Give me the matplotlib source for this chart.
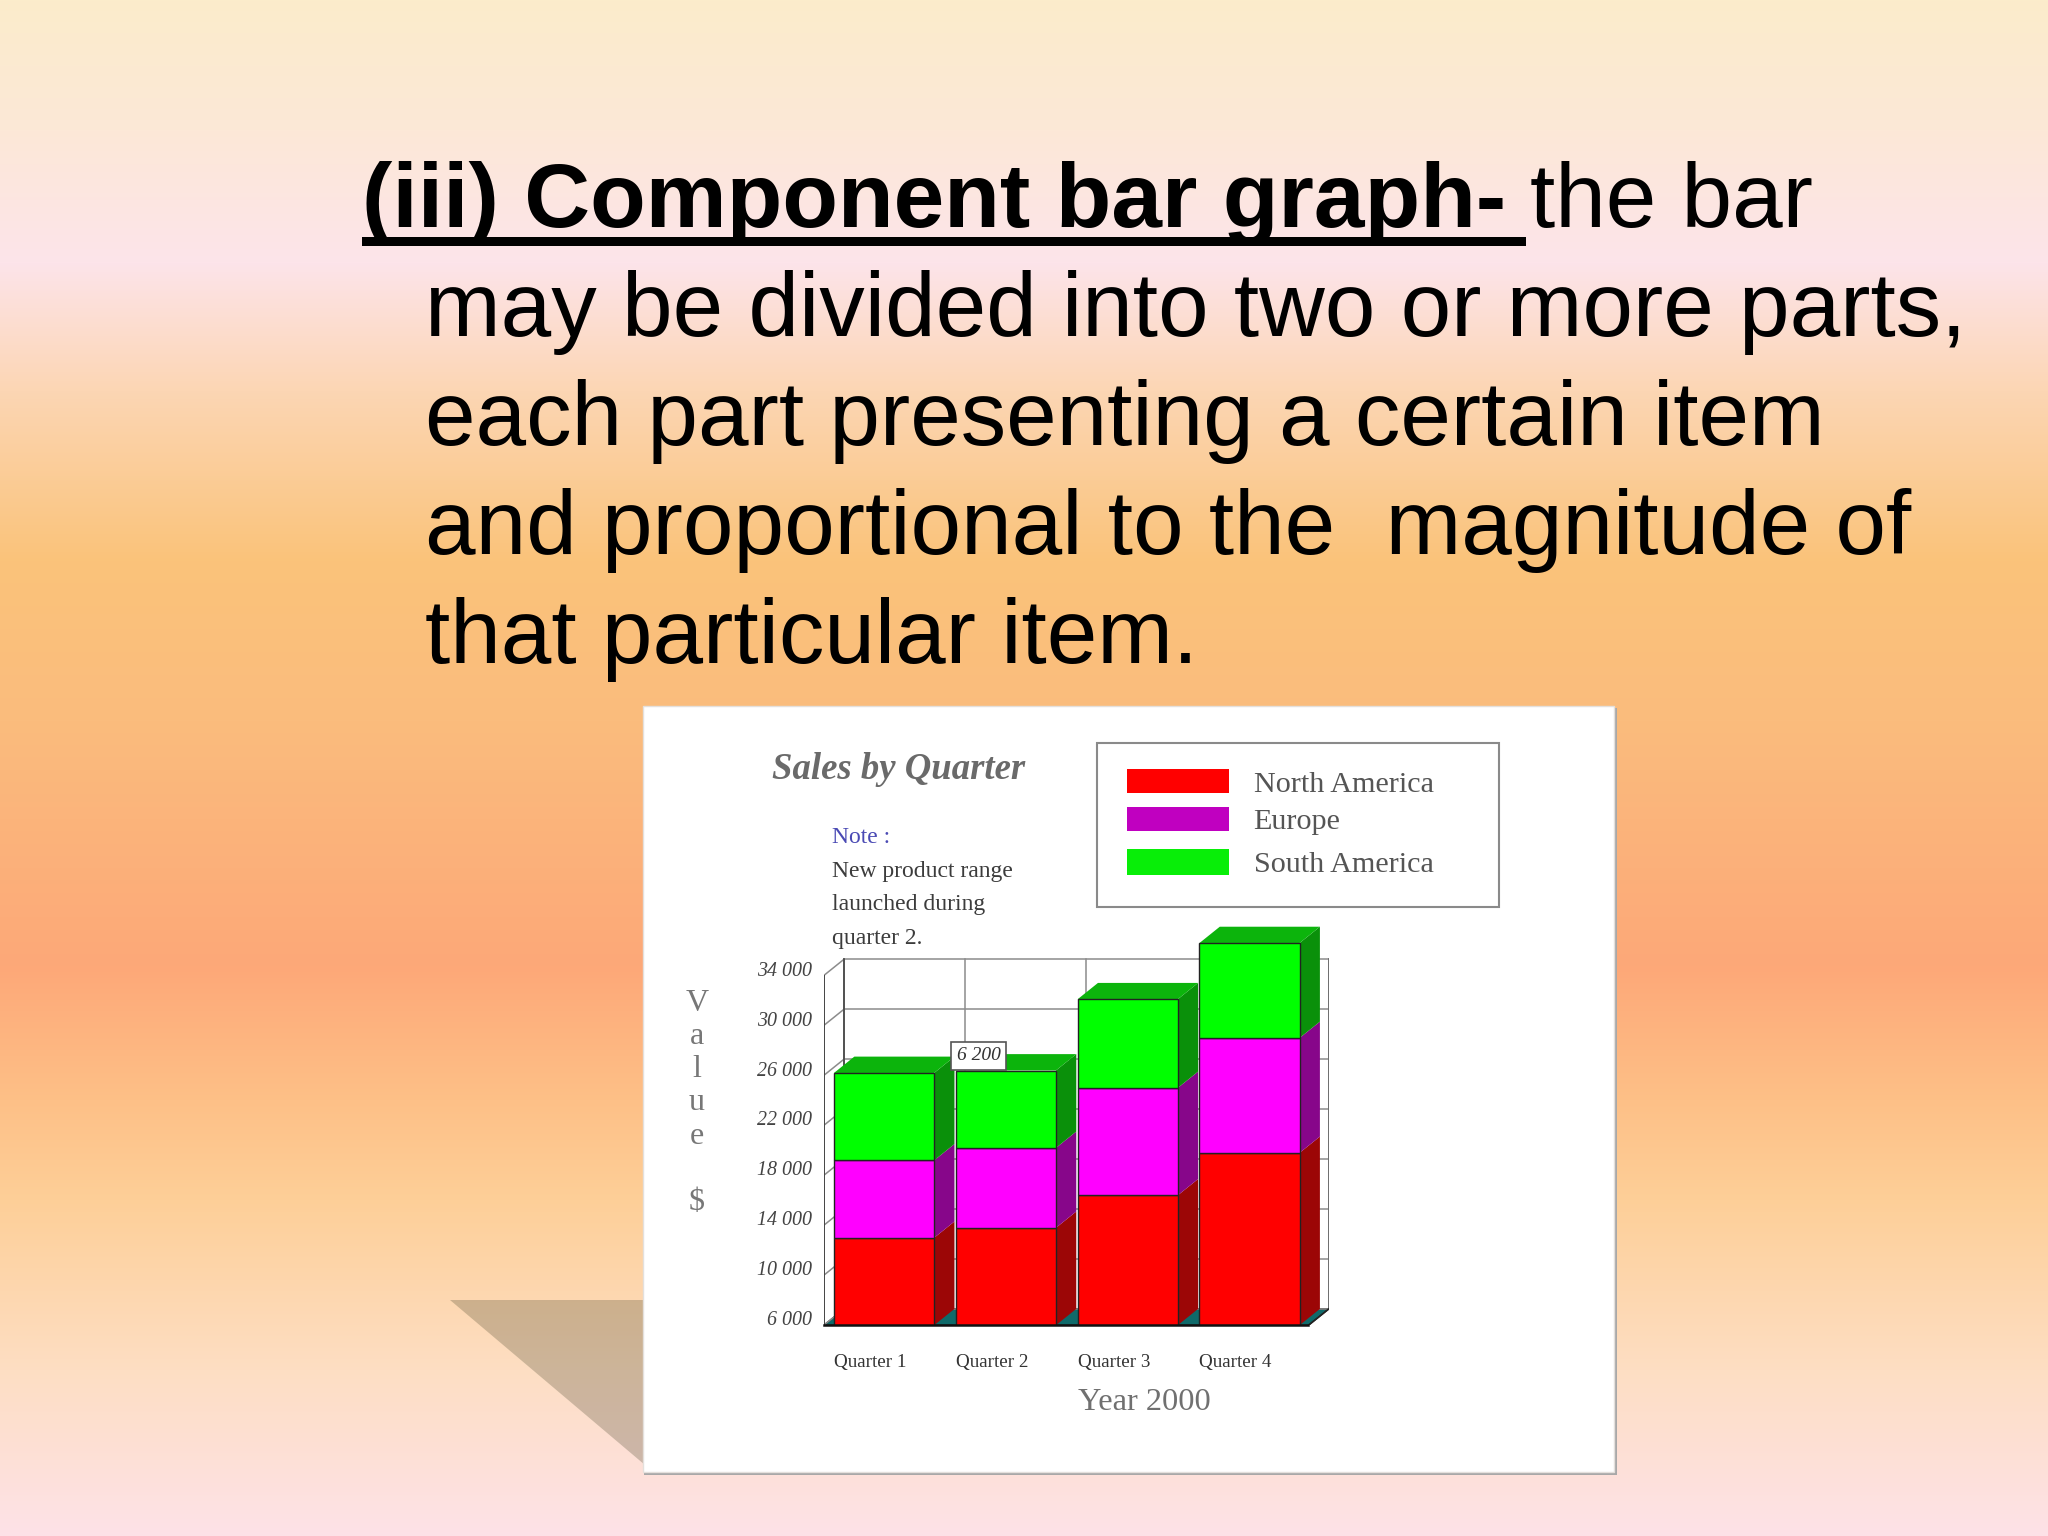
import numpy as np
import matplotlib
matplotlib.use("Agg")
import matplotlib.pyplot as plt
from matplotlib.patches import Rectangle, Polygon

# ---- data ----
quarters = ["Quarter 1", "Quarter 2", "Quarter 3", "Quarter 4"]
series_names = ["North America", "Europe", "South America"]
north_america = [13000, 13800, 16400, 19800]
europe = [6200, 6400, 8600, 9200]
south_america = [7000, 6200, 7100, 7600]
y_ticks = [6000, 10000, 14000, 18000, 22000, 26000, 30000, 34000]
y_tick_labels = ["6 000", "10 000", "14 000", "18 000", "22 000", "26 000", "30 000", "34 000"]
note_lines = ["New product range", "launched during", "quarter 2."]

W, H = 2048, 1536
fig = plt.figure(figsize=(W / 100, H / 100), dpi=100)

# ---- slide layer, in pixel coordinates ----
bg = fig.add_axes([0, 0, 1, 1])
bg.set_xlim(0, W)
bg.set_ylim(H, 0)
bg.axis("off")

stops_y = np.array([0, 130, 262, 390, 560, 720, 966, 1100, 1200, 1370, 1536])
stops_c = np.array([
    [251, 236, 203], [252, 232, 215], [253, 228, 234], [252, 214, 180],
    [250, 195, 122], [250, 188, 125], [253, 168, 120], [253, 192, 135],
    [253, 207, 152], [253, 222, 195], [253, 226, 232]], float)
ys = np.arange(H)
grad = np.stack([np.interp(ys, stops_y, stops_c[:, i]) for i in range(3)], axis=1) / 255
bg.imshow(grad[:, None, :], extent=(0, W, H, 0), aspect="auto", zorder=0)
bg.set_xlim(0, W)
bg.set_ylim(H, 0)

# shadow and white card
bg.add_patch(Polygon([(450, 1300), (645, 1300), (645, 1465)], closed=True,
                     facecolor="#3a3a20", alpha=0.25, edgecolor="none", zorder=1))
bg.add_patch(Rectangle((644, 708), 973, 767, facecolor="#a8a8a8", edgecolor="none", zorder=1.5))
bg.add_patch(Rectangle((642.5, 706), 971.5, 766, facecolor="white", edgecolor="#e4e0dc", lw=1, zorder=2))

# slide text
sans = "Liberation Sans"
fs = 65.4
baselines = [227, 336, 445, 554, 663.5]
bg.text(362, baselines[0], "(iii) Component bar graph-", family=sans, weight="bold", size=65.65,
        va="baseline", ha="left", color="black", zorder=3)
bg.text(1530, baselines[0], "the bar", family=sans, size=fs, va="baseline", ha="left",
        color="black", zorder=3)
bg.add_patch(Rectangle((362, 236.5), 1164, 9, facecolor="black", edgecolor="none", zorder=3))
body = ["may be divided into two or more parts,",
        "each part presenting a certain item",
        "and proportional to the  magnitude of",
        "that particular item."]
for b, line in zip(baselines[1:], body):
    bg.text(425, b, line, family=sans, size=fs, va="baseline", ha="left", color="black", zorder=3)

# chart texts
serif = "Liberation Serif"
bg.text(772, 769.5, "Sales by Quarter", family=serif, weight="bold", style="italic", size=26.5,
        color="#6a6a6a", va="center", ha="left", zorder=3)
bg.text(832, 837.5, "Note :", family=serif, size=17, color="#4a4ab4", va="center", ha="left", zorder=3)
for y, line in zip([871.5, 904.5, 938.5], note_lines):
    bg.text(832, y, line, family=serif, size=17, color="#3c3c3c", va="center", ha="left", zorder=3)
bg.text(697, 1103, "V\na\nl\nu\ne\n\n$", family=serif, size=23, color="#777777", ha="center",
        va="center", linespacing=1.19, multialignment="center", zorder=3)
bg.text(1144, 1402, "Year 2000", family=serif, size=23.4, color="#707070", ha="center",
        va="center", zorder=3)

# legend
colors_front = ["#ff0000", "#ff00ff", "#00ff00"]
colors_legend = ["#ff0000", "#c000c0", "#08ee08"]
colors_side = ["#9c0606", "#87068a", "#0a900a"]
colors_top = ["#c80000", "#c000c0", "#0cb40c"]
bg.add_patch(Rectangle((1096.6, 742.8), 402.4, 164.6, facecolor="white", edgecolor="#8a8a8a",
                       lw=1.5, zorder=3))
for name, col, (y0, y1), yt in zip(series_names, colors_legend,
                                   [(768.6, 793), (806.5, 831), (849, 875)], [784.5, 822, 864.5]):
    bg.add_patch(Rectangle((1126.6, y0), 102.4, y1 - y0, facecolor=col, edgecolor="none", zorder=4))
    bg.text(1253.5, yt, name, family=serif, size=21.7, color="#555555", va="center", ha="left", zorder=4)

# ---- chart ----
ymin, ymax = 6000, 40000
x0, x1 = -0.495, 3.6515
px_per_unit = 0.01249
ax_left, ax_right, ax_bottom = 823.7, 1328.8, 1325.3
ax_h = (ymax - ymin) * px_per_unit
ax = fig.add_axes([ax_left / W, (H - ax_bottom) / H, (ax_right - ax_left) / W, ax_h / H])
ax.set_xlim(x0, x1)
ax.set_ylim(ymin, ymax)
ax.patch.set_visible(False)
for s in ax.spines.values():
    s.set_visible(False)

depth_x, depth_y = 0.1675, 1312
bar_w = 0.822
x = np.arange(len(quarters), dtype=float)
top_tick = y_ticks[-1]
front_right = x1 - depth_x

grid_col = "#8c8c8c"
# floor
ax.add_patch(Polygon([(x0, ymin), (front_right, ymin), (x1, ymin + depth_y), (x0 + depth_x, ymin + depth_y)],
                     closed=True, facecolor="#0f6a6a", edgecolor="#222222", lw=1, zorder=1))
# back wall and left wall grid
for v in y_ticks:
    ax.plot([x0 + depth_x, x1], [v + depth_y] * 2, color=grid_col, lw=1.1, zorder=1)
    ax.plot([x0, x0 + depth_x], [v, v + depth_y], color=grid_col, lw=1.1, zorder=1)
for gx in np.linspace(x0 + depth_x, x1, 5):
    ax.plot([gx, gx], [ymin + depth_y, top_tick + depth_y], color=grid_col, lw=1.1, zorder=1)
ax.plot([x0, x0], [ymin, top_tick], color="#444444", lw=1.4, zorder=2)
ax.plot([x0 + depth_x] * 2, [ymin + depth_y, top_tick + depth_y], color="#444444", lw=1.2, zorder=1)
ax.plot([x1, x1], [ymin + depth_y, top_tick + depth_y], color="#666666", lw=1.2, zorder=1)

# stacked 3-D bars
bottom = np.zeros(len(quarters))
for vals, cf, cs, ct, name in zip([north_america, europe, south_america], colors_front,
                                  colors_side, colors_top, series_names):
    vals = np.array(vals, float)
    top = bottom + vals
    ax.bar(x, vals, bar_w, bottom=bottom, color=cf, edgecolor="#222222", lw=1.0, zorder=4, label=name)
    for xi, b, t in zip(x, np.maximum(bottom, ymin), top):
        r = xi + bar_w / 2
        ax.add_patch(Polygon([(r, b), (r + depth_x, b + depth_y), (r + depth_x, t + depth_y), (r, t)],
                             closed=True, facecolor=cs, edgecolor="none", zorder=3))
    bottom = top
for xi, t in zip(x, bottom):
    l, r = xi - bar_w / 2, xi + bar_w / 2
    ax.add_patch(Polygon([(l, t), (r, t), (r + depth_x, t + depth_y), (l + depth_x, t + depth_y)],
                         closed=True, facecolor=colors_top[2], edgecolor="none", zorder=3))
ax.plot([x0, front_right], [ymin, ymin], color="#111111", lw=1.8, zorder=5, clip_on=False)
ax.plot([front_right, x1], [ymin, ymin + depth_y], color="#222222", lw=1.2, zorder=2)

# axis labels
ax.set_yticks(y_ticks)
ax.set_yticklabels(y_tick_labels, family=serif, style="italic", size=14.4, color="#444444")
for t in ax.get_yticklabels():
    t.set_verticalalignment("baseline")
ax.set_xticks(x - bar_w / 2)
ax.set_xticklabels(quarters, family=serif, size=13.7, color="#333333", ha="left")
ax.tick_params(axis="y", length=0, pad=8.4)
ax.tick_params(axis="x", length=0, pad=20.8)

# callout on Quarter 2's South America segment
ax.annotate(f"{south_america[1]:,}".replace(",", " "),
            xy=(x[1], bottom[1]), xytext=(-19.7, 10.5), textcoords="offset points",
            family=serif, style="italic", size=14, color="#333333", ha="center", va="center",
            bbox=dict(boxstyle="square,pad=0.3", facecolor="white", edgecolor="#555555", lw=1.2),
            zorder=6, annotation_clip=False)

fig.savefig("out.png", dpi=100)
